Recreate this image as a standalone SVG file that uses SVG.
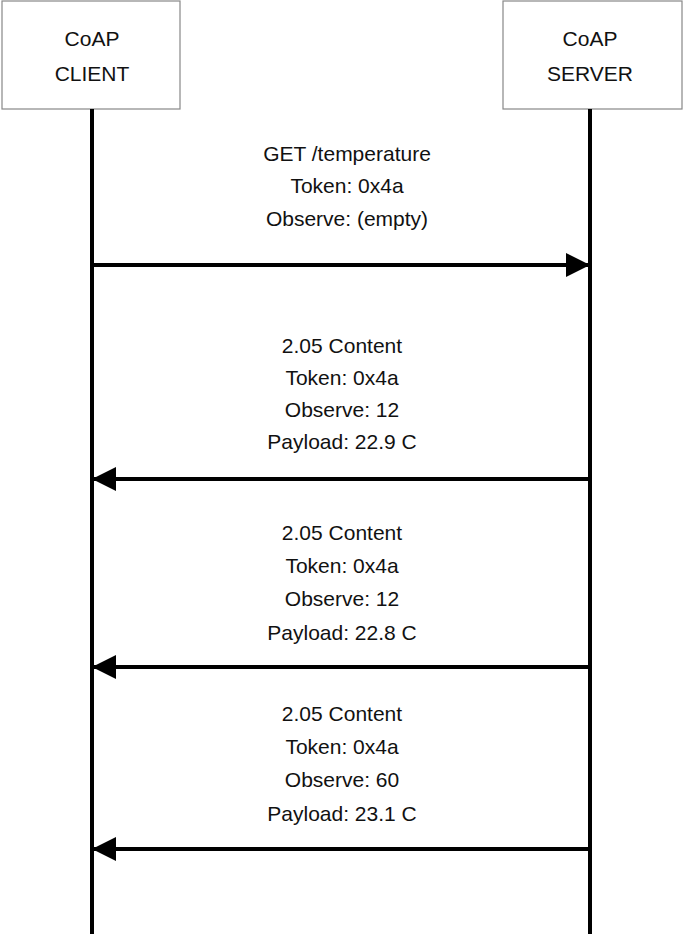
<svg xmlns="http://www.w3.org/2000/svg" width="685" height="934" viewBox="0 0 685 934">
<style>
text{font-family:"Liberation Sans",Arial,sans-serif;font-size:21px;fill:#111;text-anchor:middle}
.box{fill:#fff;stroke:#888;stroke-width:1.2}
.life{stroke:#000;stroke-width:4}
.msg{stroke:#000;stroke-width:4}
</style>
<defs>
<marker id="ah" markerWidth="6" markerHeight="6" refX="6" refY="3" orient="auto" markerUnits="strokeWidth" viewBox="0 0 6 6"><path d="M0,0L6,3L0,6z" fill="#000"/></marker>
</defs>
<g id="client"><rect class="box" x="2" y="1" width="178" height="108"/><text x="92" y="46">CoAP</text><text x="92" y="81">CLIENT</text></g>
<g id="server"><rect class="box" x="503" y="1" width="179" height="108"/><text x="590" y="46">CoAP</text><text x="590" y="81">SERVER</text></g>
<g id="connectors">
<line class="life" x1="92" y1="109" x2="92" y2="934"/>
<line class="life" x1="590" y1="109" x2="590" y2="934"/>
<line class="msg" x1="92" y1="265" x2="590" y2="265" marker-end="url(#ah)"/>
<line class="msg" x1="590" y1="479" x2="92" y2="479" marker-end="url(#ah)"/>
<line class="msg" x1="590" y1="667" x2="92" y2="667" marker-end="url(#ah)"/>
<line class="msg" x1="590" y1="849" x2="92" y2="849" marker-end="url(#ah)"/>
</g>
<g id="labels">
<text x="347" y="161">GET /temperature</text><text x="347" y="193">Token: 0x4a</text><text x="347" y="226">Observe: (empty)</text>
<text x="342" y="353">2.05 Content</text><text x="342" y="385">Token: 0x4a</text><text x="342" y="417">Observe: 12</text><text x="342" y="449">Payload: 22.9 C</text>
<text x="342" y="540">2.05 Content</text><text x="342" y="573">Token: 0x4a</text><text x="342" y="606">Observe: 12</text><text x="342" y="640">Payload: 22.8 C</text>
<text x="342" y="721">2.05 Content</text><text x="342" y="754">Token: 0x4a</text><text x="342" y="787">Observe: 60</text><text x="342" y="821">Payload: 23.1 C</text>
</g>
</svg>
